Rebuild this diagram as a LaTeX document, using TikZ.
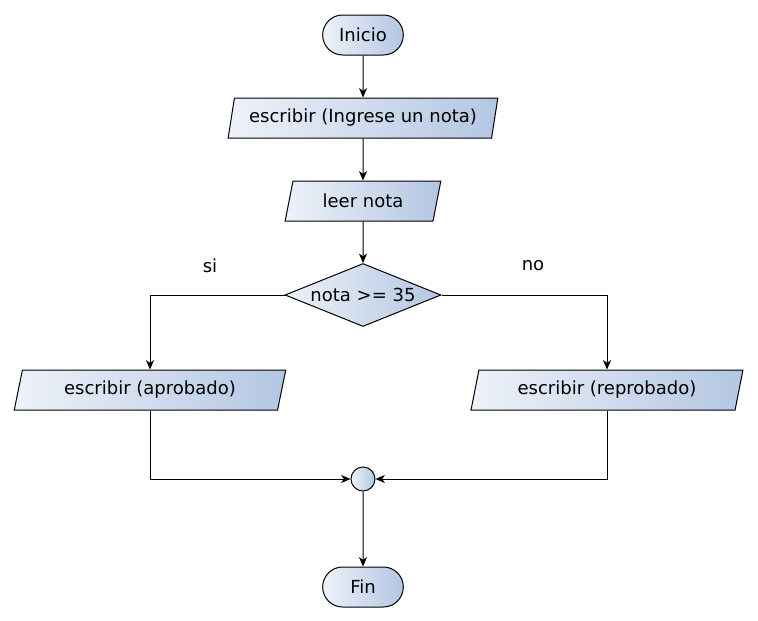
\documentclass[tikz,border=0pt]{standalone}
\usepackage{fontspec}
\setmainfont{DejaVu Sans}
\usetikzlibrary{arrows.meta,positioning,shapes.geometric,shapes.misc}
\definecolor{gradL}{HTML}{EEF2F9}
\definecolor{gradR}{HTML}{B3C6E2}
\tikzset{
    every node/.style={font=\fontsize{13.5}{16}\selectfont},
    base node/.style={draw,line width=0.75pt,left color=gradL,right color=gradR,inner sep=2pt},
    term node/.style={base node,rounded rectangle,minimum width=64.5pt,minimum height=30pt},
    io node/.style={base node,trapezium,trapezium left angle=76,trapezium right angle=104,
        trapezium stretches=true,minimum height=30pt},
    decision node/.style={base node,diamond,aspect=2.48,inner sep=0pt,minimum width=117pt,minimum height=47.25pt},
    join node/.style={base node,circle,inner sep=0pt,minimum size=18pt}
}

\begin{document}
\begin{tikzpicture}[x=0.75pt,y=-0.75pt,->,>={Stealth[length=7pt,width=6pt,inset=2pt]},
    line width=0.75pt,node distance=56.25pt]

    \useasboundingbox (0,0) rectangle (758,621);

    \node[term node] (inicio) at (363,35) {Inicio};
    \node[io node,minimum width=202.5pt] (pedir) at (363,118) {escribir (Ingrese un nota)};
    \node[io node,minimum width=117pt] (leer) at (363,201) {leer nota};
    \node[decision node] (cond) at (363,295) {nota >= 35};
    \node[io node,minimum width=204pt] (aprob) at (150,390) {escribir (aprobado)};
    \node[io node,minimum width=204pt] (reprob) at (607,390) {escribir (reprobado)};
    \node[join node] (junta) at (363,479) {};
    \node[term node] (fin) [below =of junta] {Fin};

    \node (si) at (210,266) {si};
    \node (no) at (533,266) {no};

    \draw (inicio) -- (pedir);
    \draw (pedir) -- (leer);
    \draw (leer) -- (cond);
    \draw (cond.west) -| (aprob.north);
    \draw (cond.east) -| (reprob.north);
    \draw (aprob.south) |- (junta.west);
    \draw (reprob.south) |- (junta.east);
    \draw (junta) -- (fin);
  \end{tikzpicture}
\end{document}
